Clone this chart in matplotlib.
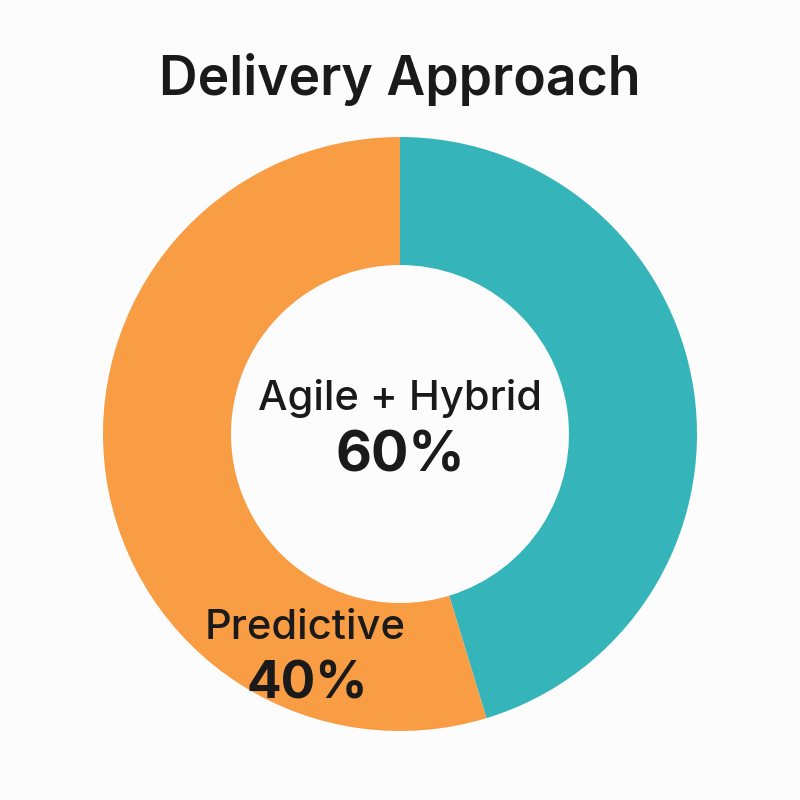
import matplotlib.pyplot as plt

# shares as drawn in the picture (labels printed as 60% / 40%)
labels = ['Agile + Hybrid', 'Predictive']
shares = [45.3, 54.7]
label_pct = ['60%', '40%']
colors = ['#35B5B9', '#F89D44']

plt.rcParams['font.family'] = ['Inter', 'DejaVu Sans']

fig = plt.figure(figsize=(8, 8), dpi=100, facecolor='#FCFCFC')
ax = fig.add_axes([0, 0, 1, 1])
ax.set_facecolor('#FCFCFC')

# donut
ax.pie(shares, colors=colors, startangle=90, counterclock=False,
       center=(400, 366), radius=297, frame=True,
       wedgeprops=dict(width=128, edgecolor='none'))
ax.set_xlim(0, 800)
ax.set_ylim(0, 800)
ax.set_aspect('equal')
ax.axis('off')

# title
ax.text(400, 720, 'Delivery Approach', ha='center', va='center',
        fontsize=38.5, fontweight='semibold', color='#1A1A1A')

# centre label
ax.text(400, 402, labels[0], ha='center', va='center',
        fontsize=30, fontweight='medium', color='#1A1A1A')
ax.text(400, 343, label_pct[0], ha='center', va='center',
        fontsize=40, fontweight='bold', color='#1A1A1A')

# predictive label
ax.text(305, 172, labels[1], ha='center', va='center',
        fontsize=30, fontweight='medium', color='#1A1A1A')
ax.text(307, 115, label_pct[1], ha='center', va='center',
        fontsize=37, fontweight='bold', color='#1A1A1A')

fig.savefig('out.png', dpi=100, facecolor=fig.get_facecolor())
